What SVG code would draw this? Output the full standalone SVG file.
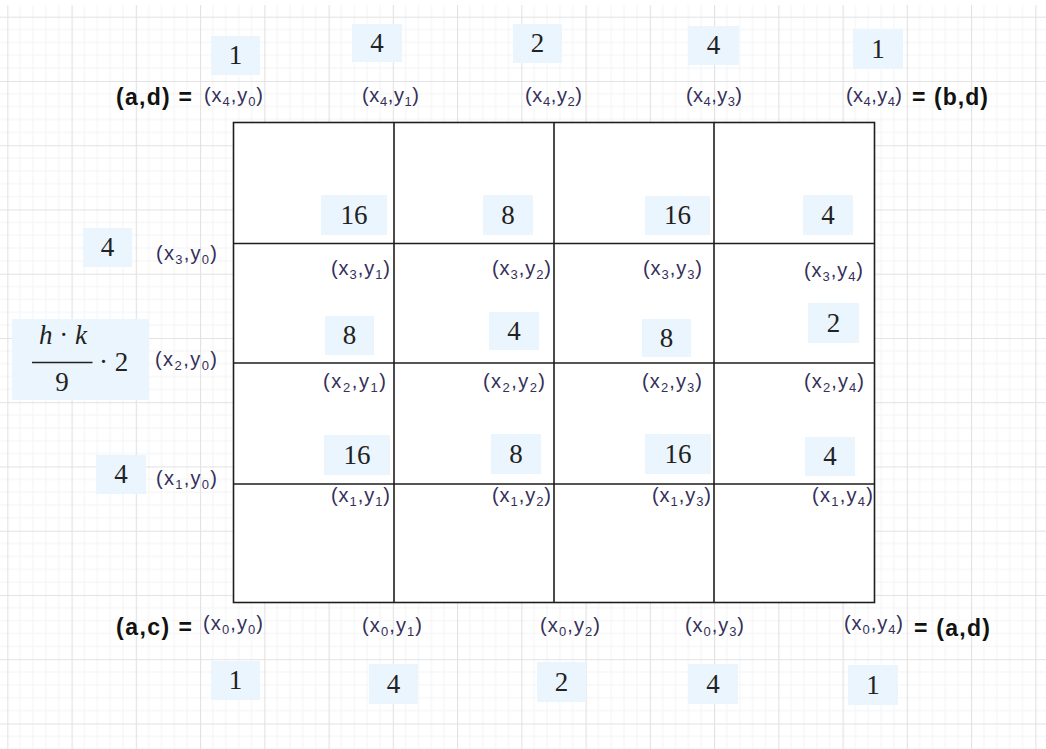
<svg xmlns="http://www.w3.org/2000/svg" width="1046" height="749" viewBox="0 0 1046 749">
<defs>
<pattern id="grid" x="7.3" y="16.7" width="64.25" height="64.25" patternUnits="userSpaceOnUse">
<path d="M12.85 0V64.25M25.7 0V64.25M38.55 0V64.25M51.4 0V64.25M0 12.85H64.25M0 25.7H64.25M0 38.55H64.25M0 51.4H64.25" stroke="#f3f3f3" stroke-width="1" fill="none"/>
<path d="M0.5 0V64.25M0 0.5H64.25" stroke="#e2e2e2" stroke-width="1.2" fill="none"/>
</pattern>
<style>
.lbl{font-family:"Liberation Sans",Arial,sans-serif;font-size:20px;fill:#35305a}
.sub{font-size:13px}
.bold{font-family:"Liberation Sans",Arial,sans-serif;font-weight:bold;font-size:23px;fill:#111}
.box{fill:#eaf5fd}
.num{font-family:"Liberation Serif","Times New Roman",serif;font-size:27px;fill:#222;text-anchor:middle}
.mi{font-family:"Liberation Serif","Times New Roman",serif;font-style:italic;font-size:27px;fill:#222}
.mn{font-family:"Liberation Serif","Times New Roman",serif;font-size:27px;fill:#222}
.gl{stroke:#1e1e1e;stroke-width:1.6;fill:none}
</style>
</defs>
<rect x="0" y="0" width="1046" height="749" fill="#ffffff"/>
<rect x="0" y="5" width="1046" height="744" fill="url(#grid)"/>

<g id="grid-lines">
<rect class="gl" x="233.5" y="122.5" width="641" height="480" style="fill:#fff"/>
<path class="gl" d="M394 122.5V602.5M554 122.5V602.5M714 122.5V602.5M233.5 243.5H874.5M233.5 363H874.5M233.5 484H874.5"/>
</g>

<g id="w-top-0"><rect class="box" x="211" y="36" width="49" height="39"/><text class="num" x="235.5" y="64">1</text></g>
<g id="w-top-1"><rect class="box" x="352" y="24" width="50" height="38"/><text class="num" x="377" y="52">4</text></g>
<g id="w-top-2"><rect class="box" x="513" y="24" width="49" height="39"/><text class="num" x="537.5" y="52">2</text></g>
<g id="w-top-3"><rect class="box" x="688" y="26" width="51" height="39"/><text class="num" x="713.5" y="54">4</text></g>
<g id="w-top-4"><rect class="box" x="853" y="29" width="50" height="40"/><text class="num" x="878" y="58">1</text></g>

<g id="w-r1-1"><rect class="box" x="321" y="195" width="66" height="40"/><text class="num" x="354" y="224">16</text></g>
<g id="w-r1-2"><rect class="box" x="483" y="195" width="50" height="40"/><text class="num" x="508" y="224">8</text></g>
<g id="w-r1-3"><rect class="box" x="645" y="196" width="65" height="39"/><text class="num" x="677.5" y="224">16</text></g>
<g id="w-r1-4"><rect class="box" x="803" y="195" width="50" height="40"/><text class="num" x="828" y="224">4</text></g>

<g id="w-r2-1"><rect class="box" x="325" y="316" width="49" height="39"/><text class="num" x="349.5" y="344">8</text></g>
<g id="w-r2-2"><rect class="box" x="489" y="312" width="50" height="38"/><text class="num" x="514" y="340">4</text></g>
<g id="w-r2-3"><rect class="box" x="642" y="319" width="49" height="38"/><text class="num" x="666.5" y="347">8</text></g>
<g id="w-r2-4"><rect class="box" x="808" y="303" width="51" height="40"/><text class="num" x="833.5" y="332">2</text></g>

<g id="w-r3-1"><rect class="box" x="324" y="435" width="66" height="40"/><text class="num" x="357" y="464">16</text></g>
<g id="w-r3-2"><rect class="box" x="491" y="434" width="50" height="40"/><text class="num" x="516" y="463">8</text></g>
<g id="w-r3-3"><rect class="box" x="645" y="434" width="66" height="40"/><text class="num" x="678" y="463">16</text></g>
<g id="w-r3-4"><rect class="box" x="805" y="437" width="50" height="39"/><text class="num" x="830" y="465">4</text></g>

<g id="w-left-3"><rect class="box" x="83" y="228" width="49" height="39"/><text class="num" x="107.5" y="256">4</text></g>
<g id="w-left-1"><rect class="box" x="96" y="455" width="50" height="39"/><text class="num" x="121" y="483">4</text></g>

<g id="w-left-2">
<rect class="box" x="12" y="319" width="137" height="81"/>
<text x="63" y="344" text-anchor="middle"><tspan class="mi">h</tspan><tspan class="mn"> · </tspan><tspan class="mi">k</tspan></text>
<line x1="32" y1="362.5" x2="92.5" y2="362.5" stroke="#222" stroke-width="1.6"/>
<text class="mn" x="62" y="391" text-anchor="middle">9</text>
<text class="mn" x="99" y="371">· 2</text>
</g>

<g id="w-bot-0"><rect class="box" x="211" y="661" width="49" height="39"/><text class="num" x="235.5" y="689">1</text></g>
<g id="w-bot-1"><rect class="box" x="369" y="664" width="49" height="40"/><text class="num" x="393.5" y="693">4</text></g>
<g id="w-bot-2"><rect class="box" x="537" y="662" width="49" height="40"/><text class="num" x="561.5" y="691">2</text></g>
<g id="w-bot-3"><rect class="box" x="688" y="664" width="50" height="40"/><text class="num" x="713" y="693">4</text></g>
<g id="w-bot-4"><rect class="box" x="848" y="665" width="50" height="40"/><text class="num" x="873" y="694">1</text></g>

<g id="corner-ad-top"><text class="bold" x="116" y="105" textLength="76" lengthAdjust="spacing">(a,d) =</text></g>
<g id="corner-bd"><text class="bold" x="912" y="105" textLength="76" lengthAdjust="spacing">= (b,d)</text></g>
<g id="corner-ac"><text class="bold" x="116" y="635" textLength="76" lengthAdjust="spacing">(a,c) =</text></g>
<g id="corner-ad-bot"><text class="bold" x="914" y="636" textLength="76" lengthAdjust="spacing">= (a,d)</text></g>

<g id="labels">
<text class="lbl" x="204" y="102" textLength="59" lengthAdjust="spacing">(x<tspan class="sub" dy="4">4</tspan><tspan dy="-4">,y</tspan><tspan class="sub" dy="4">0</tspan><tspan dy="-4">)</tspan></text>
<text class="lbl" x="362" y="102" textLength="57" lengthAdjust="spacing">(x<tspan class="sub" dy="4">4</tspan><tspan dy="-4">,y</tspan><tspan class="sub" dy="4">1</tspan><tspan dy="-4">)</tspan></text>
<text class="lbl" x="525" y="102" textLength="57" lengthAdjust="spacing">(x<tspan class="sub" dy="4">4</tspan><tspan dy="-4">,y</tspan><tspan class="sub" dy="4">2</tspan><tspan dy="-4">)</tspan></text>
<text class="lbl" x="686" y="102" textLength="56" lengthAdjust="spacing">(x<tspan class="sub" dy="4">4</tspan><tspan dy="-4">,y</tspan><tspan class="sub" dy="4">3</tspan><tspan dy="-4">)</tspan></text>
<text class="lbl" x="846" y="102" textLength="56" lengthAdjust="spacing">(x<tspan class="sub" dy="4">4</tspan><tspan dy="-4">,y</tspan><tspan class="sub" dy="4">4</tspan><tspan dy="-4">)</tspan></text>

<text class="lbl" x="156" y="260" textLength="61" lengthAdjust="spacing">(x<tspan class="sub" dy="4">3</tspan><tspan dy="-4">,y</tspan><tspan class="sub" dy="4">0</tspan><tspan dy="-4">)</tspan></text>
<text class="lbl" x="331" y="275" textLength="59" lengthAdjust="spacing">(x<tspan class="sub" dy="4">3</tspan><tspan dy="-4">,y</tspan><tspan class="sub" dy="4">1</tspan><tspan dy="-4">)</tspan></text>
<text class="lbl" x="492" y="275" textLength="59" lengthAdjust="spacing">(x<tspan class="sub" dy="4">3</tspan><tspan dy="-4">,y</tspan><tspan class="sub" dy="4">2</tspan><tspan dy="-4">)</tspan></text>
<text class="lbl" x="643" y="275" textLength="59" lengthAdjust="spacing">(x<tspan class="sub" dy="4">3</tspan><tspan dy="-4">,y</tspan><tspan class="sub" dy="4">3</tspan><tspan dy="-4">)</tspan></text>
<text class="lbl" x="804" y="277" textLength="59" lengthAdjust="spacing">(x<tspan class="sub" dy="4">3</tspan><tspan dy="-4">,y</tspan><tspan class="sub" dy="4">4</tspan><tspan dy="-4">)</tspan></text>

<text class="lbl" x="155" y="366" textLength="62" lengthAdjust="spacing">(x<tspan class="sub" dy="4">2</tspan><tspan dy="-4">,y</tspan><tspan class="sub" dy="4">0</tspan><tspan dy="-4">)</tspan></text>
<text class="lbl" x="323" y="388" textLength="63" lengthAdjust="spacing">(x<tspan class="sub" dy="4">2</tspan><tspan dy="-4">,y</tspan><tspan class="sub" dy="4">1</tspan><tspan dy="-4">)</tspan></text>
<text class="lbl" x="483" y="388" textLength="62" lengthAdjust="spacing">(x<tspan class="sub" dy="4">2</tspan><tspan dy="-4">,y</tspan><tspan class="sub" dy="4">2</tspan><tspan dy="-4">)</tspan></text>
<text class="lbl" x="642" y="388" textLength="60" lengthAdjust="spacing">(x<tspan class="sub" dy="4">2</tspan><tspan dy="-4">,y</tspan><tspan class="sub" dy="4">3</tspan><tspan dy="-4">)</tspan></text>
<text class="lbl" x="804" y="388" textLength="60" lengthAdjust="spacing">(x<tspan class="sub" dy="4">2</tspan><tspan dy="-4">,y</tspan><tspan class="sub" dy="4">4</tspan><tspan dy="-4">)</tspan></text>

<text class="lbl" x="156" y="485" textLength="61" lengthAdjust="spacing">(x<tspan class="sub" dy="4">1</tspan><tspan dy="-4">,y</tspan><tspan class="sub" dy="4">0</tspan><tspan dy="-4">)</tspan></text>
<text class="lbl" x="331" y="502" textLength="59" lengthAdjust="spacing">(x<tspan class="sub" dy="4">1</tspan><tspan dy="-4">,y</tspan><tspan class="sub" dy="4">1</tspan><tspan dy="-4">)</tspan></text>
<text class="lbl" x="492" y="502" textLength="59" lengthAdjust="spacing">(x<tspan class="sub" dy="4">1</tspan><tspan dy="-4">,y</tspan><tspan class="sub" dy="4">2</tspan><tspan dy="-4">)</tspan></text>
<text class="lbl" x="652" y="502" textLength="59" lengthAdjust="spacing">(x<tspan class="sub" dy="4">1</tspan><tspan dy="-4">,y</tspan><tspan class="sub" dy="4">3</tspan><tspan dy="-4">)</tspan></text>
<text class="lbl" x="812" y="502" textLength="61" lengthAdjust="spacing">(x<tspan class="sub" dy="4">1</tspan><tspan dy="-4">,y</tspan><tspan class="sub" dy="4">4</tspan><tspan dy="-4">)</tspan></text>

<text class="lbl" x="203" y="630" textLength="60" lengthAdjust="spacing">(x<tspan class="sub" dy="4">0</tspan><tspan dy="-4">,y</tspan><tspan class="sub" dy="4">0</tspan><tspan dy="-4">)</tspan></text>
<text class="lbl" x="362" y="632" textLength="60" lengthAdjust="spacing">(x<tspan class="sub" dy="4">0</tspan><tspan dy="-4">,y</tspan><tspan class="sub" dy="4">1</tspan><tspan dy="-4">)</tspan></text>
<text class="lbl" x="540" y="632" textLength="60" lengthAdjust="spacing">(x<tspan class="sub" dy="4">0</tspan><tspan dy="-4">,y</tspan><tspan class="sub" dy="4">2</tspan><tspan dy="-4">)</tspan></text>
<text class="lbl" x="685" y="632" textLength="59" lengthAdjust="spacing">(x<tspan class="sub" dy="4">0</tspan><tspan dy="-4">,y</tspan><tspan class="sub" dy="4">3</tspan><tspan dy="-4">)</tspan></text>
<text class="lbl" x="844" y="630" textLength="59" lengthAdjust="spacing">(x<tspan class="sub" dy="4">0</tspan><tspan dy="-4">,y</tspan><tspan class="sub" dy="4">4</tspan><tspan dy="-4">)</tspan></text>
</g>
</svg>
